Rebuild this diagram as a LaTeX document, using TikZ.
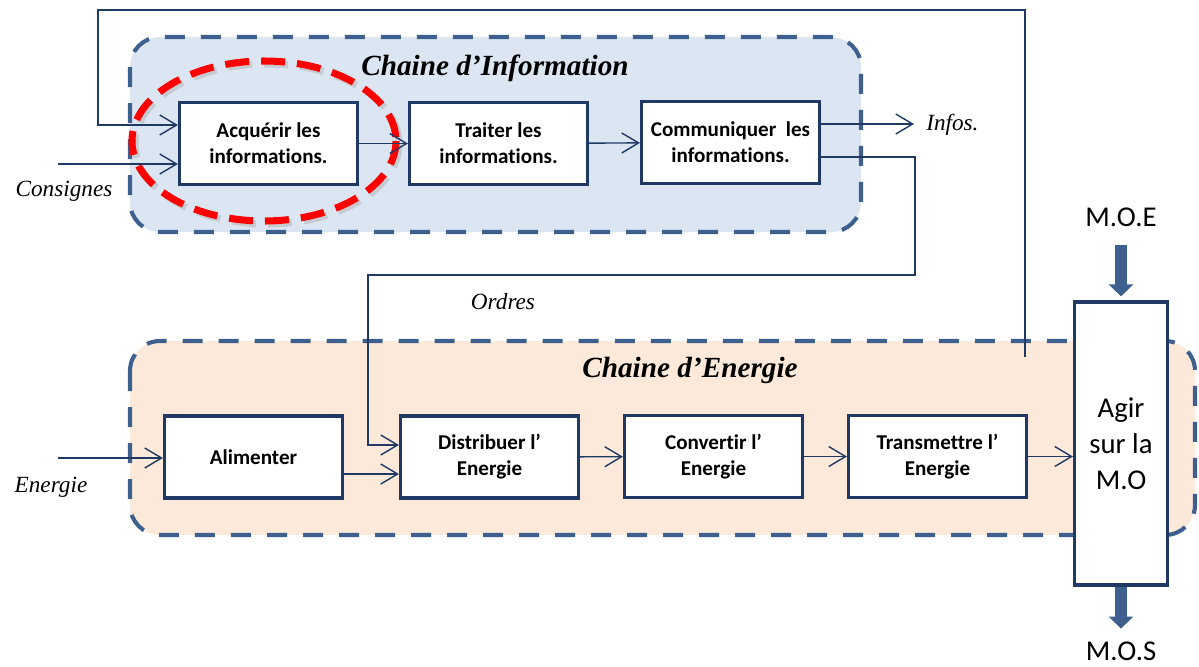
\documentclass[tikz,border=0pt]{standalone}
\usepackage{fontspec}
\setmainfont{Liberation Serif}
\newfontfamily\carlito[Ligatures=NoCommon]{Carlito}
\usetikzlibrary{calc,positioning,arrows.meta}
\definecolor{navy}{RGB}{31,56,100}
\definecolor{dashblue}{RGB}{62,96,142}
\definecolor{infofill}{RGB}{220,230,242}
\definecolor{energyfill}{RGB}{253,233,217}
\tikzset{
>={Straight Barb[length=0.42cm,width=0.5cm]},
  chainbox/.style={
    draw=dashblue, line width=2.9pt,
    dash pattern=on 0.5cm off 0.4cm,
    rounded corners=0.75cm},
  block/.style={
    rectangle,
    draw=navy, line width=2.2pt,
    fill=white,
    minimum width=4.45cm,
    minimum height=2.05cm,
    inner sep=0pt,
    align=center,
    font=\carlito\bfseries\fontsize{15}{18.5}\selectfont},
  line/.style={draw=navy, line width=1pt, ->},
  chaintitle/.style={font=\bfseries\itshape\fontsize{20.8}{25}\selectfont},
  lbl/.style={font=\itshape\fontsize{16.5}{20}\selectfont, inner sep=0pt},
  agirtxt/.style={font=\carlito\fontsize{20.4}{25.6}\selectfont, align=center},
  fat/.style={draw=dashblue, line width=0.28cm,
    -{Triangle[length=0.3cm,width=0.6cm]}},
}

\begin{document}
\begin{tikzpicture}[x=0.025cm, y=-0.025cm]
    \useasboundingbox (0,0) rectangle (1199,666);

    % chaine d'information
    \draw[chainbox, fill=infofill] (130,37) rectangle (861,232);
    \node[chaintitle] (tinfo) at (495,68) {Chaine d’Information};

    \node[block] (acq) at (268.5,143.5) {Acquérir les\\informations.};
    \node[block] (trait) at (498.5,143.5) {Traiter les\\informations.};
    \node[block] (comm) at (730.5,142.5) {Communiquer\ \ les\\informations.};

    % chaine d'energie
    \draw[chainbox, fill=energyfill] (130,341) rectangle (1195,535);
    \node[chaintitle] (tener) at (690,370) {Chaine d’Energie};

    \node[block] (alim) at (253.5,457) {Alimenter};
    \node[block] (dist) at (489.5,457) {Distribuer l’\\Energie};
    \node[block] (conv) at (713.5,456.5) {Convertir l’\\Energie};
    \node[block] (trans) at (937.5,456.5) {Transmettre l’\\Energie};

    \node[block, minimum width=2.325cm, minimum height=7.075cm,
          font=\carlito\fontsize{20.4}{25.6}\selectfont] (agir) at (1121,443.5) {Agir\\sur la\\M.O};

    % cercle rouge
    \draw[gray!60, opacity=0.5, line width=5pt, dash pattern=on 0.6cm off 0.3cm]
        (267,144) ellipse [x radius=132, y radius=80];
    \draw[red, line width=5pt, dash pattern=on 0.6cm off 0.3cm]
        (264,141) ellipse [x radius=132, y radius=80];

    % entrees et liaisons
    \coordinate (fb) at (1025,357);
    \draw[line] (fb) |- (98,10) |- ($(acq.west)+(0,-18.5)$);

    \coordinate (cons) at (58,164);
    \draw[line] (cons) -- (acq.west |- cons);
    \node[lbl] (lcons) at (64,191) {Consignes};

    \draw[line] (acq) -- (trait);
    \draw[line] (trait) -- (comm);

    \node[lbl, anchor=west] (infos) at (926,125) {Infos.};
    \draw[line, shorten >=0.3cm] ($(comm.east)+(0,-18.5)$) coordinate (c1) -- (infos.west |- c1);

    \draw[line] ($(comm.east)+(0,14.5)$) -| (915,275) -- (368,275) |- ($(dist.west)+(0,-12)$);
    \node[lbl] (lord) at (503,302) {Ordres};

    \coordinate (ener) at (58,458);
    \draw[line] (ener) -- (alim.west |- ener);
    \node[lbl] (lener) at (51,487) {Energie};

    \draw[line] ($(alim.east)+(0,17)$) coordinate (a1) -- (dist.west |- a1);
    \draw[line] (dist) -- (conv);
    \draw[line] (conv) -- (trans);
    \draw[line] (trans.east) -- (agir.west |- trans.east);

    % matiere d'oeuvre
    \node[agirtxt] (moe) at (1121,217) {M.O.E};
    \node[agirtxt] (mos) at (1121,651) {M.O.S};
    \draw[fat, shorten <=0.35cm, shorten >=0.1cm] (moe.south) -- (agir.north);
    \draw[fat, shorten >=0.2cm] (agir.south) -- (mos.north);
\end{tikzpicture}
\end{document}
